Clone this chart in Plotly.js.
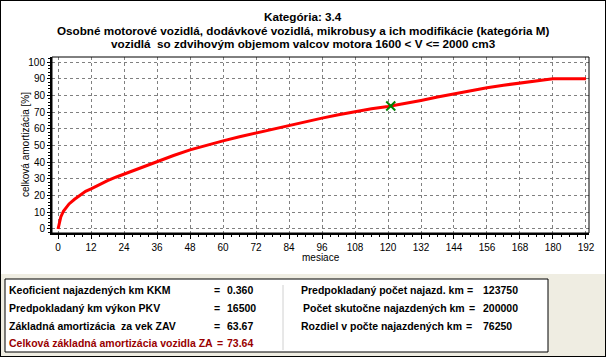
<!DOCTYPE html>
<html>
<head>
<meta charset="utf-8">
<script src="https://cdn.plot.ly/plotly-3.0.1.min.js"></script>
<style>
html,body{margin:0;padding:0;background:#fff;}
#wrap{position:relative;width:606px;height:357px;}
#chart{width:606px;height:357px;}
#border{position:absolute;left:0;top:0;width:606px;height:357px;box-sizing:border-box;border:1px solid #000;pointer-events:none;}
</style>
</head>
<body>
<div id="wrap"><div id="chart"></div><div id="border"></div></div>
<script>
// ---- data ----
const months = [0, 0.4, 1, 2, 3, 4, 6, 8, 10, 12, 15, 18, 21, 24, 30, 36, 42, 48, 54, 60, 66, 72, 78, 84, 90, 96, 102, 108, 114, 120, 126, 132, 138, 144, 150, 156, 162, 168, 174, 180, 186, 192];
const amort  = [0, 3.8, 7.2, 10.8, 13.2, 15.0, 17.8, 20.4, 22.6, 24.0, 26.6, 28.9, 31.0, 32.9, 36.8, 40.4, 44.0, 47.4, 50.2, 52.8, 55.2, 57.5, 59.8, 62.0, 64.2, 66.4, 68.4, 70.3, 72.0, 73.4, 75.0, 77.0, 79.0, 81.0, 82.8, 84.6, 86.1, 87.5, 88.8, 90.0, 90.0, 90.0];
const markerMonth = [121];
const markerValue = [73.64];
const xTicks = [0, 12, 24, 36, 48, 60, 72, 84, 96, 108, 120, 132, 144, 156, 168, 180, 192];
const yTicks = [0, 10, 20, 30, 40, 50, 60, 70, 80, 90, 100];
const titleLines = [
  "Kategória: 3.4",
  "Osobné motorové vozidlá, dodávkové vozidlá, mikrobusy a ich modifikácie (kategória M)",
  "vozidlá  so zdvihovým objemom valcov motora 1600 &lt; V &lt;= 2000 cm3"
];
const xTitle = "mesiace";
const yTitle = "celková amortizácia [%]";
const leftLabels = ["Keoficient najazdených km KKM", "Predpokladaný km výkon PKV", "Základná amortizácia  za vek ZAV", "Celková základná amortizácia vozidla ZA"];
const leftValues = ["0.360", "16500", "63.67", "73.64"];
const rightLabels = ["Predpokladaný počet najazd. km", "Počet skutočne najazdených km", "Rozdiel v počte najazdených km"];
const rightValues = ["123750", "200000", "76250"];

// ---- layout helpers (pixel -> paper) ----
const W = 606, H = 357, ML = 52, MR = 17, MT = 57, MB = 124;
const PW = W - ML - MR, PH = H - MT - MB;
const px = x => (x - ML) / PW;
const py = y => (H - MB - y) / PH;

const FAM = "'Liberation Sans', Arial, sans-serif";
const boxFont = {family: FAM, size: 10.5, color: "#000"};
const annotations = [];
titleLines.forEach((t, i) => {
  annotations.push({xref: 'paper', yref: 'paper', x: px(303), y: py(16 + i * 14), xanchor: 'center', yanchor: 'middle',
    text: '<b>' + t + '</b>', showarrow: false,
    font: {family: FAM, size: 11.7, color: '#000'}});
});
annotations.push({xref: 'paper', yref: 'paper', x: px(25), y: 0.5, xanchor: 'center', yanchor: 'middle',
  text: yTitle, textangle: -90, showarrow: false, font: {family: FAM, size: 10, color: '#000'}});
annotations.push({xref: 'paper', yref: 'paper', x: 0.5, y: py(257), xanchor: 'center', yanchor: 'middle',
  text: xTitle, showarrow: false, font: {family: FAM, size: 10, color: '#000'}});

const rowY = [290, 308, 326, 343];
const leftEqX = [212, 212, 212, 215];
leftLabels.forEach((t, i) => {
  const col = i === 3 ? '#990000' : '#000';
  annotations.push({xref: 'paper', yref: 'paper', x: px(7), y: py(rowY[i]), xanchor: 'left', yanchor: 'middle',
    text: '<b>' + t + '</b>', showarrow: false, font: Object.assign({}, boxFont, {color: col})});
  annotations.push({xref: 'paper', yref: 'paper', x: px(leftEqX[i]), y: py(rowY[i]), xanchor: 'left', yanchor: 'middle',
    text: '<b>=</b>', showarrow: false, font: Object.assign({}, boxFont, {color: col})});
  annotations.push({xref: 'paper', yref: 'paper', x: px(225), y: py(rowY[i]), xanchor: 'left', yanchor: 'middle',
    text: '<b>' + leftValues[i] + '</b>', showarrow: false, font: Object.assign({}, boxFont, {color: col})});
});
const rightX = [299, 301, 299];
const eqX = [465, 467, 464];
rightLabels.forEach((t, i) => {
  annotations.push({xref: 'paper', yref: 'paper', x: px(rightX[i]), y: py(rowY[i]), xanchor: 'left', yanchor: 'middle',
    text: '<b>' + t + '</b>', showarrow: false, font: boxFont});
  annotations.push({xref: 'paper', yref: 'paper', x: px(eqX[i]), y: py(rowY[i]), xanchor: 'left', yanchor: 'middle',
    text: '<b>=</b>', showarrow: false, font: boxFont});
  annotations.push({xref: 'paper', yref: 'paper', x: px(481), y: py(rowY[i]), xanchor: 'left', yanchor: 'middle',
    text: '<b>' + rightValues[i] + '</b>', showarrow: false, font: boxFont});
});

const shapes = [
  // textured lower background
  {type: 'rect', xref: 'paper', yref: 'paper', x0: px(1), x1: px(605), y0: py(274), y1: py(356), line: {width: 0}, fillcolor: '#efede2', layer: 'below'},
  // info box
  {type: 'rect', xref: 'paper', yref: 'paper', x0: px(5), x1: px(548), y0: py(279), y1: py(352), line: {color: '#000', width: 1}, fillcolor: '#fff', layer: 'below'},
  // separator
  {type: 'line', xref: 'paper', yref: 'paper', x0: px(283), x1: px(283), y0: py(285), y1: py(350), line: {color: '#d0d0d0', width: 1}},
  // plot frame
  {type: 'rect', xref: 'paper', yref: 'paper', x0: 0, x1: 1, y0: 0, y1: 1, line: {color: '#000', width: 1}}
];

const traces = [
  {x: months, y: amort, type: 'scatter', mode: 'lines', line: {color: '#ff0000', width: 3}, hoverinfo: 'skip'},
  {x: markerMonth, y: markerValue, type: 'scatter', mode: 'markers',
   marker: {symbol: 'x-thin', size: 9, line: {color: '#008000', width: 2}, color: '#008000'}, hoverinfo: 'skip'}
];

const tickFont = {family: FAM, size: 10, color: '#000'};
const layout = {
  width: W, height: H,
  margin: {l: ML, r: MR, t: MT, b: MB, pad: 0},
  paper_bgcolor: '#fff', plot_bgcolor: '#fff',
  showlegend: false,
  xaxis: {
    range: [-2.2, 193.1], tickvals: xTicks, ticktext: xTicks.map(String),
    showgrid: true, gridcolor: '#808080', griddash: '3px,3px', gridwidth: 1,
    zeroline: false, showline: true, linecolor: '#000', linewidth: 2,
    ticks: 'outside', ticklen: 4, tickcolor: '#000', tickfont: tickFont,
    minor: {dtick: 3, tick0: 0, ticks: 'outside', ticklen: 2, tickcolor: '#000', showgrid: false}
  },
  yaxis: {
    range: [-2.4, 103], tickvals: yTicks, ticktext: yTicks.map(String),
    showgrid: true, gridcolor: '#808080', griddash: '3px,3px', gridwidth: 1,
    zeroline: false, showline: true, linecolor: '#000', linewidth: 2,
    ticks: 'outside', ticklen: 3, tickcolor: '#000', tickfont: tickFont,
    minor: {dtick: 2, tick0: 0, ticks: 'outside', ticklen: 2, tickcolor: '#000', showgrid: false}
  },
  annotations: annotations,
  shapes: shapes
};

Plotly.newPlot('chart', traces, layout, {staticPlot: true, displayModeBar: false});
</script>
</body>
</html>
